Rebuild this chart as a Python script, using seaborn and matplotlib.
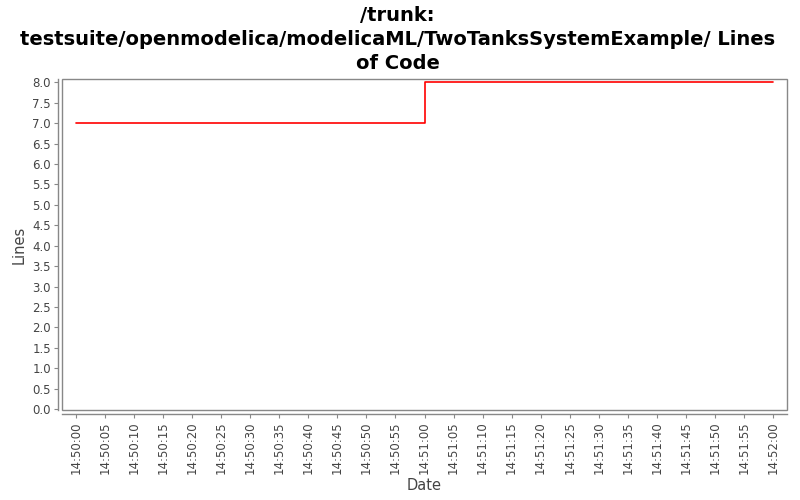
import matplotlib
matplotlib.use("Agg")
import matplotlib.pyplot as plt
import seaborn as sns
import pandas as pd
from matplotlib.patches import Rectangle
from matplotlib.ticker import FuncFormatter, MultipleLocator

times = ["14:50:00", "14:51:00", "14:52:00"]
lines = [7.0, 8.0, 8.0]
title = "/trunk:\ntestsuite/openmodelica/modelicaML/TwoTanksSystemExample/ Lines\nof Code"

def to_sec(t):
    h, m, s = map(int, t.split(":"))
    return h * 3600 + m * 60 + s

df = pd.DataFrame({"sec": [to_sec(t) for t in times], "Lines": lines})

sns.set_theme(style="white")
plt.rcParams['font.family'] = ['DejaVu Sans']

fig = plt.figure(figsize=(8, 5), dpi=100)
ax = fig.add_axes([62/800, 90/500, 725/800, 331/500])

sns.lineplot(data=df, x="sec", y="Lines", ax=ax, color="#ff0000",
             drawstyle="steps-post", linewidth=1.2)

x0, x1 = df["sec"].min(), df["sec"].max()
span = x1 - x0
ax.set_xlim(x0 - span * 14/697, x1 + span * 14/697)
ax.set_ylim(-0.02, 8.08)

ax.xaxis.set_major_locator(MultipleLocator(5))
ax.xaxis.set_major_formatter(FuncFormatter(
    lambda v, p: f"{int(v)//3600:02d}:{(int(v)%3600)//60:02d}:{int(v)%60:02d}"))
ax.yaxis.set_major_locator(MultipleLocator(0.5))
ax.yaxis.set_major_formatter(FuncFormatter(lambda v, p: f"{v:.1f}"))

for s in ["top", "right"]:
    ax.spines[s].set_visible(False)
for s in ["left", "bottom"]:
    ax.spines[s].set_position(("outward", 3))
    ax.spines[s].set_color("#888888")
    ax.spines[s].set_linewidth(1)

ax.add_patch(Rectangle((0, 0), 1, 1, transform=ax.transAxes, fill=False,
                       edgecolor="#888888", linewidth=1, clip_on=False))

ax.tick_params(axis="both", which="major", direction="out", length=3,
               width=0.8, color="#888888", labelsize=8.5, labelcolor="#444444",
               bottom=True, left=True, pad=2)
plt.setp(ax.get_xticklabels(), rotation=90)

ax.set_xlabel("Date", fontsize=10.5, color="#444444", labelpad=3)
ax.set_ylabel("Lines", fontsize=10.5, color="#444444", labelpad=4)
fig.text(0.497, 0.988, title, ha="center", va="top", fontsize=14,
         fontweight="bold", color="#000000", linespacing=1.32)

fig.savefig("out.png", dpi=100)
